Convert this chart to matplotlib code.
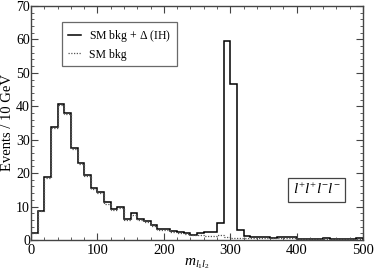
import numpy as np
import matplotlib
matplotlib.use("Agg")
import matplotlib.pyplot as plt
from matplotlib.ticker import MultipleLocator

plt.rcParams['font.family'] = ['Liberation Serif', 'DejaVu Serif']
plt.rcParams['mathtext.fontset'] = 'custom'
plt.rcParams['mathtext.rm'] = 'Liberation Serif'
plt.rcParams['mathtext.it'] = 'Liberation Serif:italic'

edges = np.arange(0, 510, 10)

# SM background + Delta (IH), events per 10 GeV bin
sig_bkg = [2.2, 8.8, 18.7, 33.9, 40.6, 38.1, 27.4, 23.0, 19.5, 15.5,
           14.5, 11.3, 9.3, 10.0, 6.3, 8.0, 6.2, 5.8, 4.5, 3.3,
           3.3, 2.7, 2.3, 2.2, 1.5, 2.0, 2.5, 2.5, 5.2, 59.6,
           46.6, 3.0, 1.2, 0.8, 1.0, 0.8, 0.7, 0.8, 0.9, 0.9,
           0.4, 0.3, 0.4, 0.3, 0.5, 0.3, 0.3, 0.4, 0.3, 0.5]

# SM background only
bkg = [2.1, 8.6, 18.5, 33.6, 40.3, 37.8, 27.1, 22.7, 19.2, 15.1,
       14.1, 10.9, 8.9, 9.6, 6.0, 7.6, 5.9, 5.4, 4.2, 3.0,
       3.0, 2.3, 2.0, 1.8, 1.4, 1.5, 1.2, 1.3, 1.5, 0.8,
       0.7, 0.6, 0.5, 0.6, 0.7, 0.6, 0.5, 0.6, 0.7, 0.6,
       0.3, 0.2, 0.3, 0.2, 0.4, 0.2, 0.2, 0.3, 0.2, 0.4]

fig = plt.figure(figsize=(3.76, 2.73), dpi=100)
ax = fig.add_axes([0.0825, 0.121, 0.883, 0.857])

ax.stairs(sig_bkg, edges, color='black', lw=1.1, label=r'SM bkg + $\Delta$ (IH)')
ax.stairs(bkg, edges, color='#555555', lw=0.9, ls=(0, (1, 1.2)), label='SM bkg')

ax.set_xlim(0, 500)
ax.set_ylim(0, 70)
ax.xaxis.set_major_locator(MultipleLocator(100))
ax.xaxis.set_minor_locator(MultipleLocator(20))
ax.yaxis.set_major_locator(MultipleLocator(10))
ax.yaxis.set_minor_locator(MultipleLocator(2))
ax.tick_params(which='both', direction='in', top=True, right=True, labelsize=10.5, pad=2.8, color='#444444')
ax.tick_params(axis='y', which='both', labelsize=10, pad=0.8)
ax.tick_params(which='major', length=5)
ax.tick_params(which='minor', length=2.5)
for s in ax.spines.values():
    s.set_color('#444444')
    s.set_linewidth(1.0)

ax.set_ylabel('Events / 10 GeV', fontsize=10.5)
ax.yaxis.set_label_coords(-0.0505, 0.5)
ax.set_xlabel(r'$m_{l_1 l_2}$', fontsize=11, labelpad=0)

leg = ax.legend(loc='upper left', bbox_to_anchor=(0.093, 0.932), fontsize=8.5,
                fancybox=False, edgecolor='#444444', handlelength=1.1,
                borderpad=0.5, labelspacing=0.4, handletextpad=0.7, borderaxespad=0)
leg.get_frame().set_linewidth(0.9)

ax.text(0.932, 0.214, r'$l^{+}l^{+}l^{-}l^{-}$', transform=ax.transAxes, fontsize=11,
        ha='right', va='center',
        bbox=dict(boxstyle='square,pad=0.3', fc='white', ec='#444444', lw=0.9))

fig.savefig('out.png', dpi=100)
